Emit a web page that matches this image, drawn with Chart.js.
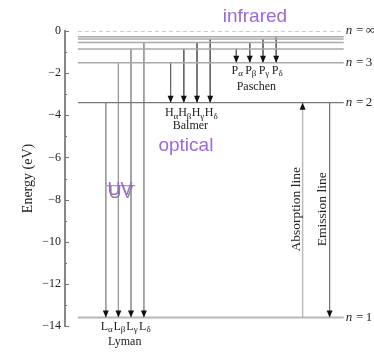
<!DOCTYPE html>
<html>
<head>
<meta charset="utf-8">
<script src="https://cdn.jsdelivr.net/npm/chart.js@4.4.1/dist/chart.umd.min.js"></script>
<style>
  html, body { margin: 0; padding: 0; background: #fff; }
  #wrap { width: 374px; height: 353px; position: relative; }
</style>
</head>
<body>
<div id="wrap"><canvas id="chart"></canvas></div>
<script>
'use strict';

/* ── DATA ── */
const levelN        = ['1', '2', '3', '4', '5', '6', '7', '∞'];
const levelEnergy   = [-13.6, -3.4, -1.51, -0.85, -0.544, -0.378, -0.278, 0];
const levelLabelled = ['1', '2', '3', '∞'];
const levelSpan     = [4.3, 92.9];
const greek         = ['α', 'β', 'γ', 'δ'];

const lymanX      = [13.6, 17.8, 22.0, 26.3];
const lymanFrom   = ['2', '3', '4', '5'];
const balmerX     = [35.2, 39.6, 44.0, 48.4];
const balmerFrom  = ['3', '4', '5', '6'];
const paschenX    = [57.1, 61.6, 66.0, 70.4];
const paschenFrom = ['4', '5', '6', '7'];

const absorptionX = 79.2;
const emissionX   = 88.2;

const yMin = -14;
const yMax = 0;
const yStep = 2;

/* ── HELPERS ── */
const SERIF = "'Liberation Serif', 'DejaVu Serif', serif";
const SANS  = "'Liberation Sans', Arial, sans-serif";
const PURPLE = '#9a6ad8';
const energyOf = n => levelEnergy[levelN.indexOf(n)];
const minus = v => String(v).replace('-', '\u2212');

const series = [
  { name: 'Lyman',   letter: 'L', xs: lymanX,   from: lymanFrom,   to: '1', color: '#999', lab: 9,    nameOff: 24 },
  { name: 'Balmer',  letter: 'H', xs: balmerX,  from: balmerFrom,  to: '2', color: '#666', lab: 10.5, nameOff: 23.5 },
  { name: 'Paschen', letter: 'P', xs: paschenX, from: paschenFrom, to: '3', color: '#666', lab: 8,    nameOff: 24.5 },
];

/* ── DATASETS ── */
const datasets = [];

levelN.forEach((n, i) => {
  const style = n === '∞' ? { c: '#999', w: 1, dash: [4, 3] }
              : n === '1' ? { c: '#b8b8b8', w: 2, dash: [] }
              : n === '2' ? { c: '#777', w: 1.2, dash: [] }
              : { c: '#aaa', w: 1.5, dash: [] };
  datasets.push({
    data: [{ x: levelSpan[0], y: levelEnergy[i] }, { x: levelSpan[1], y: levelEnergy[i] }],
    borderColor: style.c,
    borderWidth: style.w,
    borderDash: style.dash,
  });
});

series.forEach(s => {
  s.xs.forEach((xv, k) => {
    datasets.push({
      data: [{ x: xv, y: energyOf(s.from[k]) }, { x: xv, y: energyOf(s.to) }],
      borderColor: s.color,
      borderWidth: 1,
      arrow: true,
    });
  });
});

datasets.push({
  data: [{ x: absorptionX, y: energyOf('1') }, { x: absorptionX, y: energyOf('2') }],
  borderColor: '#bbb', borderWidth: 1.5, arrow: true,
});
datasets.push({
  data: [{ x: emissionX, y: energyOf('2') }, { x: emissionX, y: energyOf('1') }],
  borderColor: '#777', borderWidth: 1, arrow: true,
});

datasets.forEach(d => {
  d.showLine = true;
  d.pointRadius = 0;
  d.pointHoverRadius = 0;
  d.fill = false;
});

/* ── TEXT HELPERS ── */
function subLabel(ctx, base, sub, cx, cy) {
  ctx.font = '12px ' + SERIF;
  const wb = ctx.measureText(base).width;
  ctx.font = '9px ' + SERIF;
  const ws = ctx.measureText(sub).width;
  const x0 = cx - (wb + ws) / 2;
  ctx.textAlign = 'left';
  ctx.textBaseline = 'middle';
  ctx.font = '12px ' + SERIF;
  ctx.fillText(base, x0, cy);
  ctx.font = '9px ' + SERIF;
  ctx.fillText(sub, x0 + wb, cy + 3);
}

function rotText(ctx, text, px, py, font, color) {
  ctx.save();
  ctx.translate(px, py);
  ctx.rotate(-Math.PI / 2);
  ctx.font = font;
  ctx.fillStyle = color;
  ctx.textAlign = 'center';
  ctx.textBaseline = 'middle';
  ctx.fillText(text, 0, 0);
  ctx.restore();
}

/* ── PLUGIN ── */
const diagram = {
  id: 'diagram',
  afterDatasetsDraw(chart) {
    const ctx = chart.ctx;
    chart.data.datasets.forEach((ds, i) => {
      if (!ds.arrow) return;
      const [a, b] = chart.getDatasetMeta(i).data;
      const dir = Math.sign(b.y - a.y);
      ctx.save();
      ctx.fillStyle = '#111';
      ctx.beginPath();
      ctx.moveTo(b.x, b.y);
      ctx.lineTo(b.x - 3, b.y - dir * 7);
      ctx.lineTo(b.x + 3, b.y - dir * 7);
      ctx.closePath();
      ctx.fill();
      ctx.restore();
    });
  },
  afterDraw(chart) {
    const { ctx, chartArea, scales: { x, y } } = chart;
    ctx.save();

    /* inward ticks */
    ctx.strokeStyle = '#777';
    ctx.lineWidth = 1;
    for (let v = yMin; v <= yMax; v++) {
      const py = Math.round(y.getPixelForValue(v)) + 0.5;
      const len = v % 2 === 0 ? 4 : 2;
      ctx.beginPath();
      ctx.moveTo(chartArea.left, py);
      ctx.lineTo(chartArea.left + len, py);
      ctx.stroke();
    }

    /* level labels */
    ctx.fillStyle = '#222';
    levelLabelled.forEach(n => {
      const py = y.getPixelForValue(energyOf(n));
      const px = x.getPixelForValue(93.6);
      ctx.textAlign = 'left';
      ctx.textBaseline = 'middle';
      ctx.font = 'italic 13px ' + SERIF;
      ctx.fillText('n', px, py);
      const w = ctx.measureText('n').width;
      ctx.font = '13px ' + SERIF;
      ctx.fillText('\u2009=\u2009' + n, px + w + 1, py);
    });

    /* series labels */
    series.forEach(s => {
      const base = y.getPixelForValue(energyOf(s.to));
      s.xs.forEach((xv, k) => {
        subLabel(ctx, s.letter, greek[k], x.getPixelForValue(xv) + 1, base + s.lab);
      });
      const mid = s.xs.reduce((p, c) => p + c, 0) / s.xs.length;
      ctx.font = '12px ' + SERIF;
      ctx.textAlign = 'center';
      ctx.textBaseline = 'middle';
      ctx.fillText(s.name, x.getPixelForValue(mid), base + s.nameOff);
    });

    /* vertical line captions */
    const capY = y.getPixelForValue(-8.46);
    rotText(ctx, 'Absorption line', x.getPixelForValue(77.2), capY, '13.5px ' + SERIF, '#222');
    rotText(ctx, 'Emission line', x.getPixelForValue(85.8), capY, '13.5px ' + SERIF, '#222');

    /* band names */
    ctx.textAlign = 'center';
    ctx.textBaseline = 'alphabetic';
    ctx.font = '19px ' + SANS;
    ctx.fillStyle = PURPLE;
    ctx.fillText('infrared', x.getPixelForValue(63.3), y.getPixelForValue(0.43));
    ctx.fillText('optical', x.getPixelForValue(40.3), y.getPixelForValue(-5.69));

    ctx.font = '18px ' + SANS;
    const uvX = x.getPixelForValue(18.3);
    const uvY = y.getPixelForValue(-7.77);
    ctx.fillStyle = '#888';
    ctx.fillText('UV', uvX + 1, uvY + 3);
    const uw = ctx.measureText('UV').width;
    ctx.strokeStyle = '#888';
    ctx.beginPath();
    ctx.moveTo(uvX - uw / 2 - 1, uvY - 9);
    ctx.lineTo(uvX + uw / 2 + 3, uvY - 9);
    ctx.stroke();
    ctx.fillStyle = PURPLE;
    ctx.fillText('UV', uvX, uvY);

    ctx.restore();
  },
};

/* ── CHART ── */
new Chart(document.getElementById('chart'), {
  type: 'scatter',
  data: { datasets },
  options: {
    responsive: true,
    maintainAspectRatio: false,
    animation: false,
    events: [],
    layout: { padding: { top: 31, bottom: 27, right: 9, left: 0 } },
    plugins: { legend: { display: false }, tooltip: { enabled: false } },
    scales: {
      x: { type: 'linear', min: 0, max: 100, display: false },
      y: {
        min: yMin,
        max: yMax,
        afterFit: s => { s.width = 65; },
        ticks: {
          stepSize: yStep,
          padding: 4,
          color: '#222',
          font: { family: SERIF, size: 12 },
          callback: v => minus(v),
        },
        grid: { drawOnChartArea: false, drawTicks: false, color: 'rgba(0,0,0,0)' },
        border: { display: true, color: '#888', width: 2 },
        title: {
          display: true,
          text: 'Energy (eV)',
          color: '#222',
          font: { family: SERIF, size: 14 },
          padding: { top: 20, bottom: 0 },
        },
      },
    },
  },
  plugins: [diagram],
});
</script>
</body>
</html>
